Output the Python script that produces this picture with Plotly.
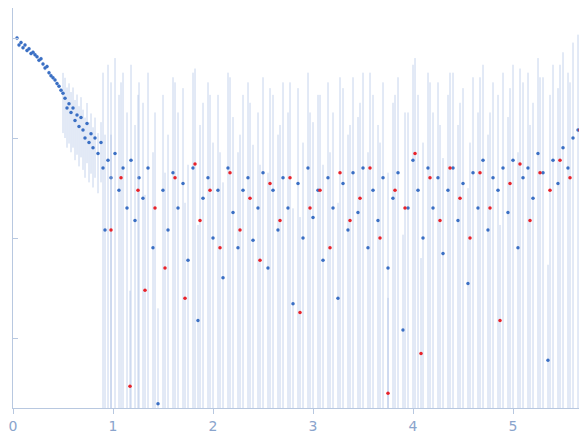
import plotly.graph_objects as go

# scattering curve, blue = main set, red = second set
q_blue = [0.04, 0.06, 0.08, 0.10, 0.12, 0.14, 0.16, 0.18, 0.20, 0.22, 0.24, 0.26, 0.28, 0.30,
          0.32, 0.34, 0.36, 0.38, 0.40, 0.42, 0.44, 0.46, 0.48, 0.50, 0.52, 0.54, 0.56, 0.58,
          0.60, 0.62, 0.64, 0.66, 0.68, 0.70, 0.72, 0.74, 0.76, 0.78, 0.80, 0.82, 0.85, 0.88,
          0.90, 0.92, 0.95, 0.98, 1.02, 1.06, 1.10, 1.14, 1.18, 1.22, 1.26, 1.30, 1.35, 1.40,
          1.45, 1.50, 1.55, 1.60, 1.65, 1.70, 1.75, 1.80, 1.85, 1.90, 1.95, 2.00, 2.05, 2.10,
          2.15, 2.20, 2.25, 2.30, 2.35, 2.40, 2.45, 2.50, 2.55, 2.60, 2.65, 2.70, 2.75, 2.80,
          2.85, 2.90, 2.95, 3.00, 3.05, 3.10, 3.15, 3.20, 3.25, 3.30, 3.35, 3.40, 3.45, 3.50,
          3.55, 3.60, 3.65, 3.70, 3.75, 3.80, 3.85, 3.90, 3.95, 4.00, 4.05, 4.10, 4.15, 4.20,
          4.25, 4.30, 4.35, 4.40, 4.45, 4.50, 4.55, 4.60, 4.65, 4.70, 4.75, 4.80, 4.85, 4.90,
          4.95, 5.00, 5.05, 5.10, 5.15, 5.20, 5.25, 5.30, 5.35, 5.40, 5.45, 5.50, 5.55, 5.60,
          5.65, 5.70, 5.75, 5.80]
I_blue = [1.0, 0.85, 0.9, 0.8, 0.85, 0.75, 0.78, 0.7, 0.72, 0.68, 0.65, 0.6, 0.62, 0.55,
          0.5, 0.52, 0.45, 0.42, 0.4, 0.38, 0.35, 0.33, 0.3, 0.28, 0.25, 0.2, 0.22, 0.18,
          0.2, 0.15, 0.17, 0.13, 0.16, 0.12, 0.1, 0.14, 0.09, 0.11, 0.08, 0.1, 0.07, 0.09,
          0.05, 0.012, 0.06, 0.04, 0.07, 0.03, 0.05, 0.02, 0.06, 0.015, 0.04, 0.025, 0.05, 0.008,
          0.00022, 0.03, 0.012, 0.045, 0.02, 0.035, 0.006, 0.05, 0.0015, 0.025, 0.04, 0.01, 0.03, 0.004,
          0.05, 0.018, 0.008, 0.03, 0.04, 0.0095, 0.02, 0.045, 0.005, 0.03, 0.012, 0.04, 0.02, 0.0022,
          0.035, 0.01, 0.05, 0.016, 0.03, 0.006, 0.04, 0.02, 0.0025, 0.035, 0.012, 0.045, 0.018, 0.05,
          0.008, 0.03, 0.015, 0.04, 0.005, 0.025, 0.045, 0.0012, 0.02, 0.06, 0.03, 0.01, 0.05, 0.02,
          0.04, 0.007, 0.03, 0.05, 0.015, 0.035, 0.0035, 0.045, 0.02, 0.06, 0.012, 0.04, 0.03, 0.05,
          0.018, 0.06, 0.008, 0.04, 0.05, 0.025, 0.07, 0.045, 0.0006, 0.06, 0.035, 0.08, 0.05, 0.1,
          0.12, 0.08, 0.15, 0.1]
q_red = [0.98, 1.08, 1.17, 1.25, 1.32, 1.42, 1.52, 1.62, 1.72, 1.82, 1.87, 1.97, 2.07, 2.17,
         2.27, 2.37, 2.47, 2.57, 2.67, 2.77, 2.87, 2.97, 3.07, 3.17, 3.27, 3.37, 3.47, 3.57,
         3.67, 3.75, 3.82, 3.92, 4.02, 4.08, 4.17, 4.27, 4.37, 4.47, 4.57, 4.67, 4.77, 4.87,
         4.97, 5.07, 5.17, 5.27, 5.37, 5.47, 5.57, 5.67, 5.77]
I_red = [0.012, 0.04, 0.00033, 0.03, 0.003, 0.02, 0.005, 0.04, 0.0025, 0.055, 0.015, 0.03, 0.008, 0.045,
         0.012, 0.025, 0.006, 0.035, 0.015, 0.04, 0.0018, 0.02, 0.03, 0.008, 0.045, 0.015, 0.025, 0.05,
         0.01, 0.00028, 0.03, 0.02, 0.07, 0.0007, 0.04, 0.015, 0.05, 0.025, 0.01, 0.045, 0.02, 0.0015,
         0.035, 0.055, 0.015, 0.045, 0.03, 0.06, 0.04, 0.12, 0.09]
# relative error grows with q
rel_blue = [0.05 if q < 0.5 else 0.6 if q < 0.9 else 8 for q in q_blue]
up_blue = [i * r for i, r in zip(I_blue, rel_blue)]
dn_blue = [i * min(r, 0.999) for i, r in zip(I_blue, rel_blue)]
up_red = [i * 8 for i in I_red]
dn_red = [i * 0.999 for i in I_red]

fig = go.Figure()
for q, I, up, dn, c in [(q_blue, I_blue, up_blue, dn_blue, "#3a6fc4"),
                        (q_red, I_red, up_red, dn_red, "#e8232a")]:
    fig.add_trace(go.Scatter(
        x=q, y=I, mode="markers",
        marker=dict(color=c, size=3.5),
        error_y=dict(type="data", symmetric=False, array=up, arrayminus=dn,
                     color="rgba(160,185,225,0.6)", thickness=1, width=0),
    ))

fig.update_layout(
    width=587, height=437, showlegend=False,
    plot_bgcolor="white", paper_bgcolor="white",
    margin=dict(l=5, r=0, t=0, b=37, autoexpand=False),
    font=dict(family="DejaVu Sans", color="#8aa4cc", size=14),
)
fig.update_xaxes(range=[0, 5.82], tickvals=[0, 1, 2, 3, 4, 5], showgrid=False, zeroline=False,
                 showline=True, linecolor="#b8c8e0", ticks="outside", tickcolor="#b8c8e0", ticklen=5)
fig.update_yaxes(type="log", range=[-3.7, 0.3], showgrid=False, showticklabels=False, automargin=False,
                 showline=True, linecolor="#b8c8e0", ticks="inside", tickcolor="#b8c8e0",
                 ticklen=5, tickvals=[0.001, 0.01, 0.1, 1])
fig.write_html("out.html")
